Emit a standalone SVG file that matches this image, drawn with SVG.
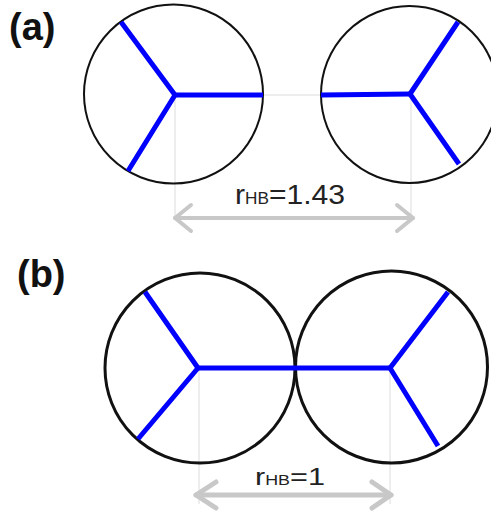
<svg xmlns="http://www.w3.org/2000/svg" width="491" height="512" viewBox="0 0 491 512">
<style>
.circ{fill:none;stroke:#111}
.bond{fill:none;stroke:#0000ff;stroke-width:5;stroke-linecap:butt;stroke-linejoin:round}
.guide{fill:none;stroke:#dcdcdc;stroke-width:1}
.arrow{fill:none;stroke:#c8c8c8;stroke-linecap:round;stroke-linejoin:round}
.panel{font-family:"Liberation Sans",Arial,sans-serif;font-weight:bold;font-size:38px;fill:#111}
.lab{font-family:"Liberation Sans",Arial,sans-serif;fill:#222}
</style>
<rect width="491" height="512" fill="#fff"/>
<text class="panel" x="9" y="40">(a)</text>
<text class="panel" x="17" y="287">(b)</text>
<g id="connectors">
  <line class="guide" x1="263" y1="95" x2="321" y2="95"/>
  <line class="guide" x1="175" y1="95" x2="175" y2="218"/>
  <line class="guide" x1="411" y1="95" x2="411" y2="218"/>
  <line class="guide" x1="199" y1="368" x2="199" y2="504"/>
  <line class="guide" x1="390" y1="368" x2="390" y2="504"/>
  <g class="arrow" stroke-width="4">
    <line x1="175" y1="218" x2="413" y2="218"/>
    <polyline points="191,205 175,218 191,231"/>
    <polyline points="397,205 413,218 397,231"/>
  </g>
  <g class="arrow" stroke-width="5">
    <line x1="196" y1="495" x2="391" y2="495"/>
    <polyline points="216,482 196,495 216,508"/>
    <polyline points="372,482 391,495 372,508"/>
  </g>
</g>
<g id="a-left">
  <circle class="circ" stroke-width="2" cx="173.5" cy="94" r="89.5"/>
  <polyline class="bond" points="121,22 175,95 128,171"/>
  <line class="bond" x1="175" y1="95" x2="263" y2="95"/>
</g>
<g id="a-right">
  <circle class="circ" stroke-width="2" cx="409.5" cy="94.5" r="88.5"/>
  <polyline class="bond" points="458,22 410,94 459,164"/>
  <line class="bond" x1="410" y1="94" x2="321" y2="95"/>
</g>
<g id="b-left">
  <circle class="circ" stroke-width="3" cx="200" cy="368" r="95"/>
  <polyline class="bond" points="145,292 198,368 138,439"/>
</g>
<g id="b-right">
  <circle class="circ" stroke-width="3" cx="391.5" cy="367" r="96"/>
  <polyline class="bond" points="448,292 390,368 438,446"/>
</g>
<g id="b-bond">
  <line class="bond" x1="198" y1="368" x2="390" y2="368"/>
</g>
<text class="lab" x="235" y="204" textLength="110" lengthAdjust="spacingAndGlyphs" font-size="28">r<tspan font-size="16">HB</tspan>=1.43</text>
<text class="lab" x="255" y="485" textLength="70" lengthAdjust="spacingAndGlyphs" font-size="24">r<tspan font-size="14">HB</tspan>=1</text>
</svg>
